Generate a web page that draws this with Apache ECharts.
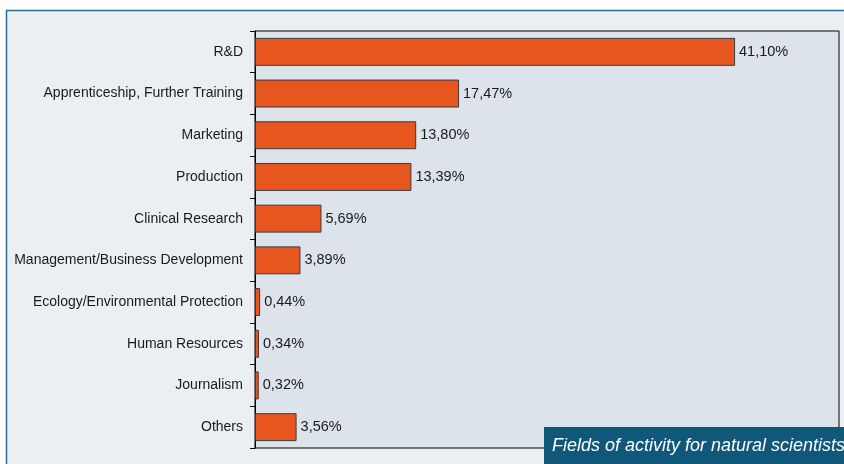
<!DOCTYPE html>
<html>
<head>
<meta charset="utf-8">
<script src="https://cdn.jsdelivr.net/npm/echarts@6/dist/echarts.min.js"></script>
<style>
  html, body { margin: 0; padding: 0; background: #ffffff; }
  #chart { width: 844px; height: 464px; }
</style>
</head>
<body>
<div id="chart"></div>
<script>
// data
const fields = [
  "R&D",
  "Apprenticeship, Further Training",
  "Marketing",
  "Production",
  "Clinical Research",
  "Management/Business Development",
  "Ecology/Environmental Protection",
  "Human Resources",
  "Journalism",
  "Others"
];
const shares = [41.10, 17.47, 13.80, 13.39, 5.69, 3.89, 0.44, 0.34, 0.32, 3.56];
const titleText = "Fields of activity for natural scientists";

const chart = echarts.init(document.getElementById("chart"), null, { renderer: "canvas" });

const option = {
  animation: false,
  backgroundColor: "#ffffff",
  graphic: [
    {
      type: "rect",
      z: -10,
      shape: { x: 6.5, y: 10.5, width: 860, height: 470 },
      style: { fill: "#eceff2", stroke: "#2a6d98", lineWidth: 1.5 }
    },
    {
      type: "rect",
      z: 100,
      shape: { x: 544, y: 427, width: 300, height: 37 },
      style: { fill: "#0f587a" }
    },
    {
      type: "text",
      z: 101,
      x: 552,
      y: 446,
      style: {
        text: titleText,
        fill: "#ffffff",
        font: "italic 18px 'Liberation Sans Narrow', 'Liberation Sans', sans-serif",
        textVerticalAlign: "middle"
      }
    }
  ],
  grid: {
    left: 255,
    top: 31,
    right: 5,
    bottom: 16,
    show: true,
    backgroundColor: "#dce3ea",
    borderColor: "#000000",
    borderWidth: 1
  },
  xAxis: {
    type: "value",
    min: 0,
    max: 50,
    show: false
  },
  yAxis: {
    type: "category",
    inverse: true,
    data: fields,
    axisLine: { show: true, lineStyle: { color: "#000000", width: 1 } },
    axisTick: { show: true, length: 5, lineStyle: { color: "#000000" } },
    axisLabel: {
      color: "#1a1a1a",
      fontSize: 14,
      fontFamily: "'Liberation Sans', sans-serif",
      margin: 12
    },
    splitLine: { show: false }
  },
  series: [
    {
      type: "bar",
      data: shares,
      barCategoryGap: "33%",
      itemStyle: {
        color: "#e8561f",
        borderColor: "#3a3a3a",
        borderWidth: 1
      },
      label: {
        show: true,
        position: "right",
        distance: 4,
        color: "#1a1a1a",
        fontSize: 14.5,
        fontFamily: "'Liberation Sans', sans-serif",
        formatter: (p) => p.value.toFixed(2).replace(".", ",") + "%"
      }
    }
  ]
};

chart.setOption(option);
</script>
</body>
</html>
